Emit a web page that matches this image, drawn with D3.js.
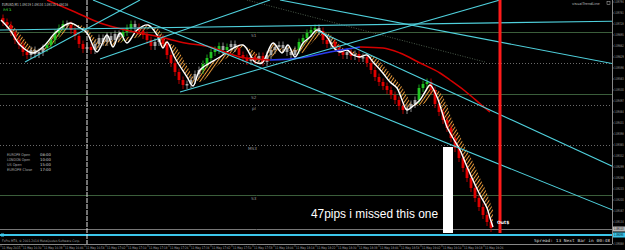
<!DOCTYPE html>
<html><head><meta charset="utf-8">
<script src="https://cdn.jsdelivr.net/npm/d3@7"></script>
<style>html,body{margin:0;padding:0;background:#000;overflow:hidden}</style>
</head><body>
<svg id="c" width="625" height="250"></svg>
<script>
// ---------- DATA ----------
const firstOpen = 1.09746;
const closes = [
1.09734,1.09725,1.09704,1.09680,1.09665,1.09644,1.09635,1.09650,1.09638,1.09644,
1.09656,1.09665,1.09680,1.09701,1.09716,1.09728,1.09725,1.09710,1.09692,1.09668,
1.09653,1.09659,1.09650,1.09668,1.09686,1.09674,1.09692,1.09680,1.09698,1.09689,
1.09704,1.09716,1.09728,1.09719,1.09707,1.09695,1.09680,1.09662,1.09674,1.09686,
1.09668,1.09635,1.09611,1.09584,1.09560,1.09545,1.09548,1.09560,1.09578,1.09590,
1.09608,1.09626,1.09644,1.09650,1.09662,1.09650,1.09659,1.09668,1.09656,1.09635,
1.09626,1.09617,1.09629,1.09620,1.09632,1.09614,1.09635,1.09650,1.09659,1.09665,
1.09656,1.09644,1.09635,1.09650,1.09674,1.09686,1.09701,1.09710,1.09716,1.09707,
1.09680,1.09668,1.09674,1.09656,1.09644,1.09635,1.09644,1.09632,1.09638,1.09626,
1.09629,1.09611,1.09590,1.09569,1.09554,1.09542,1.09530,1.09515,1.09500,1.09482,
1.09470,1.09476,1.09488,1.09500,1.09536,1.09548,1.09554,1.09530,1.09488,1.09464,
1.09440,1.09416,1.09386,1.09356,1.09326,1.09296,1.09266,1.09236,1.09206,1.09179,
1.09155,1.09134,1.09116];
const barTone = "rrrrrrrnnnnggggg" + "nrrrrnr" + "nnnnnnn" + "gggn" + "rrrrnn" + "rrrrrr" + "nnnn" + "ggggg" + "ng" + "nn" + "rrr" + "nrnr" + "nnnnnnnn" + "ggggg" + "nrrnrrrnrnrn" + "rrrrrrrrrr" + "nnn" + "ggg" + "rrrrrrrrrrrrrrrr";

const lineIdx = [-0.5,1.75,4.25,7.5,10.5,13,16.75,19.25,21,23.5,
26,27.5,29.25,31,33.5,36.25,38.5,40,41,43,
46,47.5,49.25,54.25,56.75,60,63,64.75,67.5,69.75,
71.25,73,75,76.75,78.5,81,82.5,84.25,86,87.5,
89.25,91,92.5,94.75,96.75,98.5,99.75,101,102.5,104.25,
105.5,106.75,108.5,109.75,111,112.5,114.25,115.5,117.25,119.25,
121,121.75,122.5];
const fastLine = [1.0974,1.0971,1.09665,1.09641,1.09665,1.09701,1.09731,1.09716,1.09701,1.09644,
1.09695,1.09659,1.09701,1.09671,1.0971,1.09725,1.09695,1.09656,1.09674,1.09626,
1.09569,1.09542,1.0959,1.09629,1.0965,1.09665,1.09614,1.09611,1.09671,1.09641,
1.09665,1.09629,1.09671,1.09689,1.0971,1.09689,1.09659,1.09644,1.0965,1.09635,
1.09629,1.09635,1.09614,1.09584,1.09554,1.09536,1.095,1.0947,1.09482,1.095,
1.09524,1.09545,1.09509,1.09464,1.09419,1.09386,1.0935,1.09314,1.09266,1.09215,
1.09176,1.09146,1.09119];
const slowLine = [1.09734,1.09728,1.09698,1.09656,1.0965,1.09674,1.09716,1.09725,1.09713,1.0968,
1.09662,1.0968,1.09671,1.09689,1.09686,1.09713,1.09716,1.09692,1.09674,1.09662,
1.09602,1.09572,1.09554,1.09611,1.09632,1.09659,1.09644,1.0962,1.09632,1.09656,
1.09647,1.09656,1.09641,1.09665,1.09686,1.09701,1.09689,1.09662,1.0965,1.09647,
1.09635,1.09632,1.09632,1.09608,1.09581,1.09557,1.09539,1.09512,1.09485,1.09485,
1.09491,1.09509,1.0953,1.09515,1.09482,1.09434,1.09392,1.09359,1.0932,1.09266,
1.09221,1.09194,1.0917];

const maFallA = [[11,1.098],[18,1.09764],[24.25,1.09731],[31.75,1.09707],[39.25,1.09689],[45.5,1.09671],[51.75,1.09659],[55.5,1.09644],[59.25,1.09629],[66.75,1.0962]];
const maRise  = [[66.75,1.0962],[74.25,1.09626],[81.75,1.09644],[89.25,1.09659]];
const maFallB = [[89.25,1.09659],[95,1.09656],[99.25,1.09641],[104.25,1.09611],[109.25,1.09581],[111.75,1.0956],[115.5,1.09527],[120.5,1.09476],[121.75,1.09464]];

const trendLines = [
 [5.5,1.09614,34.25,1.098],
 [24.25,1.09623,66.75,1.098],
 [22.5,1.098,155.5,1.09155],
 [44.25,1.09524,124.25,1.098],
 [69.25,1.098,155.5,1.09602],
 [-0.75,1.0971,155.5,1.09737],
 [78.75,1.09707,155.5,1.09284]];
const dashedTrend = [61,1.098,120.5,1.09614];

const pivotNames = ["S1","S2","S3"];
const pivotPrices = [1.09704,1.09518,1.09215];
const dotNames = ["","pl","MS3"];
const dotPrices = [1.09611,1.09485,1.09365];
const bidPrice = 1.09113, askPrice = 1.09095;

const priceTicks = [1.09794,1.09761,1.09728,1.09695,1.09662,1.09629,1.09596,1.09563,1.09530,1.09497,
1.09464,1.09431,1.09398,1.09365,1.09332,1.09299,1.09266,1.09233,1.09200,1.09167,1.09134,1.09068];
const timeLabels = ["11 May 2015","11 May 16:30","11 May 16:38","11 May 16:46","11 May 16:54","11 May 17:02",
"11 May 17:10","11 May 17:18","11 May 17:26","11 May 17:34","11 May 17:42","11 May 17:50","11 May 17:58",
"11 May 18:06","11 May 18:14","11 May 18:22","11 May 18:30","11 May 18:38","11 May 18:46","11 May 18:54",
"11 May 19:02","11 May 19:10","11 May 19:18","11 May 19:26"];
const sessionNames = ["EUROPE Open","LONDON Open","US Open","EUROPE Close"];
const sessionTimes = ["08:00","10:00","15:00","17:00"];
const markerIdx = 21;        // white vertical
const exitIdx = 124.25;      // red vertical
const exitLow = 1.09101;
const boxIdx = [110,112.5], boxPrices = [1.09359,1.09101];
const headerText = "EURUSD,M1  1.09119 1.09134 1.09110 1.09116";
const noteText = "47pips i missed this one";

// ---------- SCALES ----------
const W=625,H=250, PR=612, PB=244;
const x = d3.scaleLinear().domain([0,153]).range([3,615]);
const y = d3.scaleLinear().domain([1.09065,1.098]).range([245,0]);
const svg = d3.select("#c");
svg.append("rect").attr("width",W).attr("height",H).attr("fill","#000");
const defs = svg.append("defs");
defs.append("clipPath").attr("id","plot").append("rect").attr("x",0).attr("y",0).attr("width",PR).attr("height",PB);
const hp = defs.append("pattern").attr("id","hatch").attr("patternUnits","userSpaceOnUse")
  .attr("width",2.8).attr("height",2.8).attr("patternTransform","rotate(35)");
hp.append("rect").attr("width",1).attr("height",2.8).attr("fill","#e89a3a");

const g = svg.append("g").attr("clip-path","url(#plot)");
const tiny = (sel, size, col) => sel.attr("font-family","DejaVu Sans, sans-serif").attr("font-size",size).attr("fill",col);
// compressed tiny text placed via transform (keeps real bounding box small)
const squeezed = (parent, tx, ty, sx, size, col, str) =>
  tiny(parent.append("text").attr("transform",`translate(${tx},${ty}) scale(${sx},1)`).text(str), size, col);

// levels
g.selectAll(".piv").data(pivotPrices).join("line").attr("x1",0).attr("x2",PR)
  .attr("y1",d=>Math.round(y(d))+0.5).attr("y2",d=>Math.round(y(d))+0.5).attr("stroke","#3b5e3b").attr("stroke-width",1);
g.selectAll(".dot").data(dotPrices).join("line").attr("x1",0).attr("x2",PR)
  .attr("y1",d=>Math.round(y(d))+0.5).attr("y2",d=>Math.round(y(d))+0.5).attr("stroke","#6a6a6a").attr("stroke-dasharray","1,2");
pivotNames.forEach((n,i)=>tiny(g.append("text").attr("x",251).attr("y",y(pivotPrices[i])+4.5).text(n),4.2,"#9a9a9a"));
dotNames.forEach((n,i)=>tiny(g.append("text").attr("x",n==="MS3"?248:252).attr("y",y(dotPrices[i])+4.5).text(n),4.2,"#9a9a9a"));
g.append("line").attr("x1",0).attr("x2",PR).attr("y1",Math.round(y(bidPrice))+0.5).attr("y2",Math.round(y(bidPrice))+0.5).attr("stroke","#777");
g.append("line").attr("x1",0).attr("x2",PR).attr("y1",y(askPrice)).attr("y2",y(askPrice)).attr("stroke","#3cc6ea").attr("stroke-width",1.8);
g.append("rect").attr("x",1).attr("y",y(askPrice)-1.5).attr("width",3).attr("height",3).attr("fill","#3cc6ea");

// dotted descending line
g.append("line").attr("x1",x(dashedTrend[0])).attr("y1",y(dashedTrend[1])).attr("x2",x(dashedTrend[2])).attr("y2",y(dashedTrend[3]))
  .attr("stroke","#4a5a4a").attr("stroke-dasharray","1,1.5");

// white vertical marker
g.append("line").attr("x1",x(markerIdx)).attr("x2",x(markerIdx)).attr("y1",0).attr("y2",PB)
  .attr("stroke","#e6e6e6").attr("stroke-dasharray","5,1");

// ribbon (behind candles)
const rib = lineIdx.map((d,i)=>({i:d,f:fastLine[i],s:slowLine[i]}));
g.append("path").datum(rib).attr("d",d3.area().x(d=>x(d.i)).y0(d=>y(d.s)).y1(d=>y(d.f)).curve(d3.curveCatmullRom))
  .attr("fill","url(#hatch)");

// candles
const opens = closes.map((c,i)=> i===0 ? firstOpen : closes[i-1]);
const toneCol = {r:"#e00000", g:"#22c322", n:"#a8a8a8"};
const cg = g.append("g");
closes.forEach((c,i)=>{
  const o = opens[i], col = toneCol[barTone[i]||"n"];
  const yt = y(Math.max(o,c)), yb = y(Math.min(o,c));
  cg.append("line").attr("x1",x(i)).attr("x2",x(i)).attr("y1",yt-3.5).attr("y2",yb+4).attr("stroke",col).attr("stroke-width",0.8);
  cg.append("rect").attr("x",x(i)-1.4).attr("width",2.8).attr("y",yt).attr("height",Math.max(1.5,yb-yt)).attr("fill",col);
});

// fast line
g.append("path").datum(rib).attr("d",d3.line().x(d=>x(d.i)).y(d=>y(d.f)).curve(d3.curveCatmullRom))
  .attr("fill","none").attr("stroke","#ffffff").attr("stroke-width",1.4);

// moving average
const ml = d3.line().x(d=>x(d[0])).y(d=>y(d[1])).curve(d3.curveMonotoneX);
g.append("path").attr("d",ml(maFallA)).attr("fill","none").attr("stroke","#d40000").attr("stroke-width",1.5);
g.append("path").attr("d",ml(maRise)).attr("fill","none").attr("stroke","#2a3cf0").attr("stroke-width",1.5);
g.append("path").attr("d",ml(maFallB)).attr("fill","none").attr("stroke","#d40000").attr("stroke-width",1.5);

// trend lines
g.selectAll(".tl").data(trendLines).join("line")
  .attr("x1",d=>x(d[0])).attr("y1",d=>y(d[1])).attr("x2",d=>x(d[2])).attr("y2",d=>y(d[3]))
  .attr("stroke","#4fd0dc").attr("stroke-width",1.1);

// white box & red exit line
g.append("rect").attr("x",x(boxIdx[0])).attr("width",x(boxIdx[1])-x(boxIdx[0]))
  .attr("y",y(boxPrices[0])).attr("height",y(boxPrices[1])-y(boxPrices[0])).attr("fill","#ffffff");
g.append("line").attr("x1",x(exitIdx)).attr("x2",x(exitIdx)).attr("y1",0).attr("y2",y(exitLow))
  .attr("stroke","#ff1a1a").attr("stroke-width",3);
tiny(g.append("text").attr("x",x(exitIdx)-3).attr("y",y(1.09134)+2).attr("font-weight","bold").text("Out$"),4.5,"#ffffff");

// note
g.append("text").attr("x",311).attr("y",218).attr("font-family","Liberation Sans, Arial, sans-serif")
  .attr("font-size",12.8).attr("fill","#ffffff").attr("textLength",127).attr("lengthAdjust","spacingAndGlyphs").text(noteText);

// header texts
tiny(svg.append("text").attr("x",2).attr("y",5.5).attr("textLength",66).attr("lengthAdjust","spacingAndGlyphs").text(headerText),4,"#c8c8c8");
tiny(svg.append("text").attr("x",3).attr("y",10.5).attr("textLength",9).attr("lengthAdjust","spacingAndGlyphs").text("M1"),3.5,"#2fc02f");
squeezed(svg, 572, 4.8, 0.95, 3.8, "#bbbbbb", "visualTrendLine");
svg.append("rect").attr("x",607).attr("y",1.5).attr("width",3).attr("height",3).attr("fill","none").attr("stroke","#bbb").attr("stroke-width",0.5);

// session box
sessionNames.forEach((n,i)=>{
  tiny(svg.append("text").attr("x",7).attr("y",156+5*i).attr("textLength",n.length*2.1).attr("lengthAdjust","spacingAndGlyphs").text(n),3.8,"#a8a8a8");
  tiny(svg.append("text").attr("x",40).attr("y",156+5*i).text(sessionTimes[i]),3.8,"#d0d0d0");
});
tiny(svg.append("text").attr("x",2).attr("y",241.5).attr("textLength",78).attr("lengthAdjust","spacingAndGlyphs")
  .text("FxPro MT4, © 2001-2014 MetaQuotes Software Corp."),3.3,"#a0a0a0");
svg.append("text").attr("x",534).attr("y",242).attr("font-family","DejaVu Sans Mono, monospace").attr("font-size",4.2)
  .attr("fill","#d8d8d8").attr("textLength",76).attr("lengthAdjust","spacingAndGlyphs").text("Spread: 13   Next Bar in 00:48");

// frame
svg.append("line").attr("x1",PR+0.5).attr("x2",PR+0.5).attr("y1",0).attr("y2",PB).attr("stroke","#888");
svg.append("line").attr("x1",0).attr("x2",PR).attr("y1",PB+0.5).attr("y2",PB+0.5).attr("stroke","#888");

// price axis (ticks via scale, labels squeezed to fit the narrow strip)
const fmt = d3.format(".5f");
const ax = svg.append("g");
ax.selectAll("line").data(priceTicks).join("line").attr("x1",PR+0.5).attr("x2",PR+2)
  .attr("y1",d=>y(d)).attr("y2",d=>y(d)).attr("stroke","#888").attr("stroke-width",0.6);
priceTicks.forEach(t=>squeezed(ax, PR+2.2, y(t)+1.4, 0.6, 3.8, "#a8a8a8", fmt(t)));
[[bidPrice,"#b8b8b8"],[askPrice,"#3cc6ea"]].forEach(([p,c])=>{
  svg.append("rect").attr("x",PR+1).attr("y",y(p)-2.5).attr("width",12).attr("height",5).attr("fill",c);
  squeezed(svg, PR+2, y(p)+1.4, 0.6, 3.8, "#000", fmt(p));
});

// time axis
const tg = svg.append("g");
timeLabels.forEach((t,k)=>{
  const xx = x(k*5.25) - 1;
  tg.append("line").attr("x1",xx-1).attr("x2",xx-1).attr("y1",PB).attr("y2",PB+3).attr("stroke","#888").attr("stroke-width",0.5);
  tiny(tg.append("text").attr("x",xx).attr("y",249).attr("textLength",18.5).attr("lengthAdjust","spacingAndGlyphs").text(t),3.3,"#a8a8a8");
});
</script>
</body></html>
